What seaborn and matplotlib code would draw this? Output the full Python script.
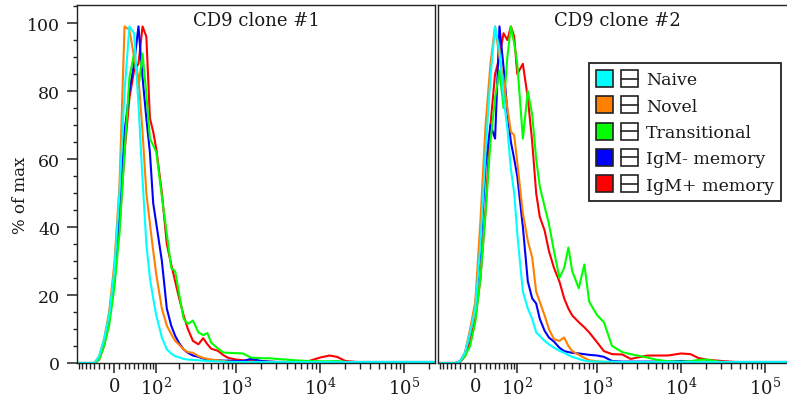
import numpy as np
import pandas as pd
import matplotlib
matplotlib.use("Agg")
import matplotlib.pyplot as plt
import seaborn as sns
from matplotlib.ticker import FixedLocator, FixedFormatter, NullFormatter
from matplotlib.legend_handler import HandlerBase
from matplotlib.patches import Rectangle, Patch
from matplotlib.lines import Line2D

# ---------------- data ----------------
# fluorescence bins (biexponential display axis)
fluorescence = [-85, -60, -40, -30, -20, -10, 0, 10, 20, 30, 40, 50, 60, 70, 80, 90, 100,
                120, 140, 160, 180, 200, 230, 260, 300, 350, 400, 450, 500, 600, 700, 800,
                1000, 1200, 1500, 2000, 2500, 3000, 4000, 5000, 7000, 10000, 13000, 16000,
                20000, 30000, 50000, 100000, 230000]

populations = ["Naive", "Novel", "Transitional", "IgM- memory", "IgM+ memory"]
colors = ["#00FFFF", "#FF8000", "#00FF00", "#0000FF", "#FF0000"]
panel_titles = ["CD9 clone #1", "CD9 clone #2"]

# CD9 clone #1 (% of max)
naive_1 = [0, 0, 0, 2, 7, 14, 27, 50, 80, 99, 97, 76, 54, 35, 25, 19, 14, 7.5, 4, 2.8,
           2.0, 1.7, 1.2, 1.0, 0.9, 0.8, 0.7, 0.6, 0.5, 0.5, 0.4, 0.3, 0.3, 0.3, 0.3, 0.3,
           0.3, 0.3, 0.3, 0.3, 0.3, 0.3, 0.3, 0.3, 0.3, 0.3, 0.3, 0.3, 0.3]
novel_1 = [0, 0, 0, 2, 7, 15, 29, 52, 99, 98, 90, 84, 68, 50, 41, 33, 26, 16, 11, 8.5,
           6.5, 5.5, 4, 3.2, 3.0, 2.0, 1.5, 1.2, 1.0, 0.8, 0.6, 0.4, 0.3, 0.3, 0.3, 0.3,
           0.3, 0.3, 0.3, 0.3, 0.3, 0.3, 0.3, 0.3, 0.3, 0.3, 0.3, 0.3, 0.3]
transitional_1 = [0, 0, 0, 1, 5, 11, 22, 38, 62, 84, 91, 81, 91, 79, 66, 64, 62, 49, 38, 28,
                  27, 21, 13, 11.5, 12.5, 9, 8.2, 8.8, 6, 4.3, 3.1, 3.0, 2.9, 2.8, 1.6, 1.4,
                  1.4, 1.2, 1.0, 0.8, 0.6, 0.5, 0.5, 0.6, 0.3, 0.2, 0.2, 0.2, 0.2]
igm_minus_1 = [0, 0, 0, 1.5, 6, 14, 26, 44, 68, 80, 88, 99, 84, 72, 62, 47, 41, 30, 16, 11,
               8, 6, 4, 3, 2.2, 1.8, 1.3, 1.0, 0.9, 0.8, 0.7, 0.7, 0.6, 0.6, 1.2, 0.6, 0.4,
               0.3, 0.3, 0.3, 0.3, 0.3, 0.3, 0.3, 0.3, 0.3, 0.3, 0.3, 0.3]
igm_plus_1 = [0, 0, 0, 1, 5, 12, 24, 40, 62, 78, 86, 88, 99, 96, 72, 68, 63, 50, 35, 29,
              24, 19.5, 14, 10, 6.5, 5.5, 7.3, 5.5, 4.2, 3.6, 2.3, 1.5, 1.0, 0.8, 0.6, 0.5,
              0.4, 0.3, 0.3, 0.3, 0.4, 1.6, 2.2, 1.8, 0.6, 0.2, 0.2, 0.2, 0.2]

# CD9 clone #2 (% of max)
naive_2 = [0, 0, 0, 0.5, 3, 9, 16, 35, 62, 84, 99, 92, 78, 69, 57, 50, 38, 21, 16, 13,
           9, 8, 6.5, 5.5, 4.5, 3.6, 3, 2.3, 1.8, 1.2, 0.7, 0.5, 0.4, 0.4, 0.4, 0.3, 0.3,
           0.3, 0.3, 0.3, 0.3, 0.3, 0.3, 0.3, 0.3, 0.3, 0.3, 0.3, 0.3]
novel_2 = [0, 0, 0, 0.5, 3, 10, 18, 42, 70, 88, 99, 90, 83, 75, 68, 67, 59, 44, 36, 31,
           21, 18, 14, 10, 7, 6.5, 7.5, 5, 3.5, 2.4, 1.5, 0.8, 0.5, 0.3, 0.3, 0.3, 0.3,
           0.3, 0.3, 0.3, 0.3, 0.3, 0.3, 0.3, 0.3, 0.3, 0.3, 0.3, 0.3]
transitional_2 = [0, 0, 0, 0.5, 2, 5, 12, 25, 44, 65, 78, 86, 75, 90, 99, 94, 88, 66, 80, 73,
                  60, 52, 46, 41, 33, 25, 28, 34, 27, 22, 29, 18, 14, 12, 5, 3.2, 2.6, 2.2,
                  1.6, 1.0, 0.5, 0.4, 0.5, 0.9, 1.0, 0.3, 0.2, 0.2, 0.2]
igm_minus_2 = [0, 0, 0, 0.5, 3, 9, 17, 33, 58, 70, 66, 99, 87, 74, 65, 60, 55, 40, 24, 19,
               17.5, 13, 9.5, 7.5, 6.3, 4.5, 3.5, 3.2, 3.0, 2.8, 2.6, 2.4, 2.2, 1.8, 0.6,
               0.4, 0.4, 0.4, 0.4, 0.4, 0.4, 0.6, 0.4, 0.3, 0.3, 0.3, 0.3, 0.3, 0.3]
igm_plus_2 = [0, 0, 0, 0.3, 2, 6, 13, 25, 45, 70, 85, 90, 97, 95, 99, 96, 85, 88, 78, 65,
              50, 43, 39, 33, 28, 24, 19, 16, 14, 12, 10.5, 9, 6, 3.5, 2.6, 2.5, 1.2, 1.6,
              2.2, 2.2, 2.2, 2.8, 2.6, 1.5, 1.0, 0.6, 0.2, 0.2, 0.2]

panel_series = [
    [naive_1, novel_1, transitional_1, igm_minus_1, igm_plus_1],
    [naive_2, novel_2, transitional_2, igm_minus_2, igm_plus_2],
]

x_major_ticks = [0, 100, 1000, 10000, 100000]
x_major_labels = ["0", "$10^2$", "$10^3$", "$10^4$", "$10^5$"]
x_minor_ticks = ([-80, -70, -60, -50, -40, -30, -20, -10, 10, 20, 30, 40, 50, 60, 70, 80, 90]
                 + [200, 300, 400, 500, 600, 700, 800, 900]
                 + [2000, 3000, 4000, 5000, 6000, 7000, 8000, 9000]
                 + [20000, 30000, 40000, 50000, 60000, 70000, 80000, 90000, 200000])
y_major_ticks = [0, 20, 40, 60, 80, 100]
y_minor_ticks = [5, 10, 15, 25, 30, 35, 45, 50, 55, 65, 70, 75, 85, 90, 95, 105]

# ---------------- long table ----------------
rows = []
for title, series_list in zip(panel_titles, panel_series):
    for pop, vals in zip(populations, series_list):
        for f, v in zip(fluorescence, vals):
            rows.append({"panel": title, "population": pop, "fluorescence": f, "pct": v})
df = pd.DataFrame(rows)

# ---------------- style ----------------
sns.set_style("ticks")
plt.rcParams["font.family"] = ["DejaVu Serif"]
plt.rcParams["mathtext.fontset"] = "dejavuserif"
TXT = "#1a1a1a"

fig = plt.figure(figsize=(7.87, 4.10), dpi=100)
W, H = 787.0, 410.0
axL = fig.add_axes([77 / W, 46 / H, 358 / W, 358 / H])
axR = fig.add_axes([438 / W, 46 / H, 358 / W, 358 / H])

palette = dict(zip(populations, colors))
draw_order = populations[::-1]

for ax, title in zip([axL, axR], panel_titles):
    sub = df[df["panel"] == title]
    sns.lineplot(data=sub, x="fluorescence", y="pct", hue="population",
                 hue_order=draw_order, palette=palette, estimator=None, sort=False,
                 linewidth=1.5, legend=False, ax=ax)
    ax.set_xscale("asinh", linear_width=70)
    ax.set_xlim(-85, 236000)
    ax.set_ylim(0, 105.3)
    ax.xaxis.set_major_locator(FixedLocator(x_major_ticks))
    ax.xaxis.set_major_formatter(FixedFormatter(x_major_labels))
    ax.xaxis.set_minor_locator(FixedLocator(x_minor_ticks))
    ax.xaxis.set_minor_formatter(NullFormatter())
    ax.set_xlabel("")
    ax.set_ylabel("")
    for s in ax.spines.values():
        s.set_visible(True)
        s.set_linewidth(1.0)
        s.set_color("#222222")
    ax.tick_params(axis="x", which="major", direction="out", length=7, width=1.1,
                   labelsize=13, pad=3, colors="#222222", labelcolor=TXT)
    ax.tick_params(axis="x", which="minor", direction="out", length=4.5, width=1.0,
                   colors="#222222")
    ax.text(0.5, 0.944, title, transform=ax.transAxes, ha="center", va="baseline",
            fontsize=13, color=TXT)

axL.yaxis.set_major_locator(FixedLocator(y_major_ticks))
axL.yaxis.set_minor_locator(FixedLocator(y_minor_ticks))
axL.tick_params(axis="y", which="major", direction="out", length=7, width=1.1,
                labelsize=12.5, pad=5, colors="#222222", labelcolor=TXT)
axL.tick_params(axis="y", which="minor", direction="out", length=3, width=1.0,
                colors="#222222")
axL.set_ylabel("% of max", fontsize=12, color=TXT)
axL.yaxis.set_label_coords(-0.135, 0.47)

axR.set_yticks([])
axR.tick_params(axis="y", which="both", left=False, labelleft=False)


# ---------------- legend ----------------
class SwatchHandler(HandlerBase):
    def create_artists(self, legend, orig_handle, xdescent, ydescent, width, height,
                       fontsize, trans):
        s = height
        gap = width - 2 * s
        x0, y0 = -xdescent, -ydescent
        r1 = Rectangle((x0, y0), s, s, facecolor=orig_handle.get_facecolor(),
                       edgecolor="#222222", lw=1.2, transform=trans)
        x2 = x0 + s + gap
        r2 = Rectangle((x2, y0), s, s, facecolor="white", edgecolor="#222222", lw=1.2,
                       transform=trans)
        ln = Line2D([x2, x2 + s], [y0 + s / 2, y0 + s / 2], color="#222222", lw=1.2,
                    transform=trans)
        return [r1, r2, ln]


handles = [Patch(facecolor=c, label=p) for p, c in zip(populations, colors)]
leg = axR.legend(handles=handles, labels=populations, loc="upper right",
                 bbox_to_anchor=(0.958, 0.838), borderaxespad=0, frameon=True,
                 fancybox=False, framealpha=1, edgecolor="#222222", fontsize=12.5,
                 handler_map={Patch: SwatchHandler()}, handlelength=2.45,
                 handleheight=1.15, handletextpad=0.45, labelspacing=0.45,
                 borderpad=0.4, labelcolor=TXT)
leg.get_frame().set_linewidth(1.3)

fig.savefig("out.png", dpi=100)
